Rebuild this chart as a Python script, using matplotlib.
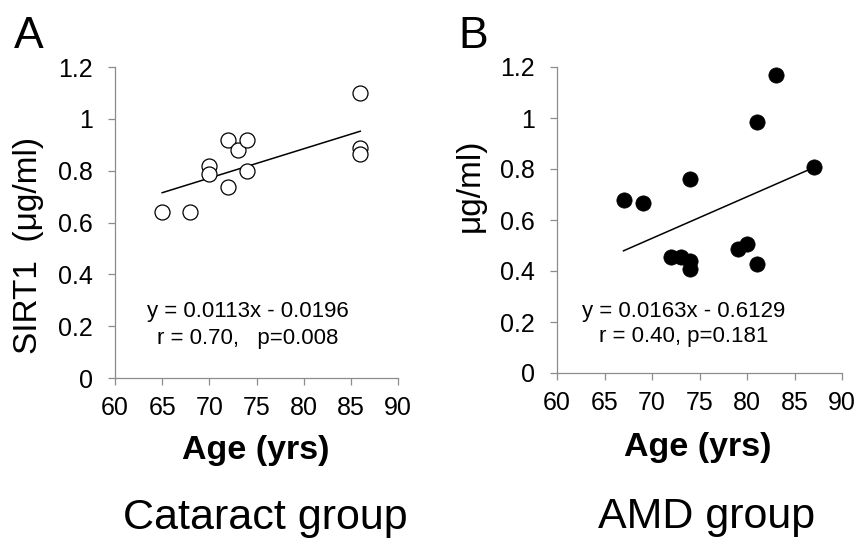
import matplotlib
matplotlib.use("Agg")
import matplotlib.pyplot as plt
import numpy as np

plt.rcParams['font.family'] = ['Liberation Sans', 'DejaVu Sans']

# Cataract group
ages_cat = [65, 68, 70, 70, 72, 72, 73, 74, 74, 86, 86, 86]
sirt_cat = [0.64, 0.64, 0.818, 0.786, 0.92, 0.736, 0.88, 0.92, 0.80, 1.10, 0.887, 0.865]
fit_cat = (0.0113, -0.0196)

# AMD group
ages_amd = [67, 69, 74, 72, 73, 74, 74, 79, 80, 81, 81, 83, 87]
sirt_amd = [0.678, 0.665, 0.761, 0.454, 0.454, 0.44, 0.407, 0.485, 0.506, 0.427, 0.985, 1.168, 0.807]
fit_amd = (0.0163, -0.6129)

xticks = [60, 65, 70, 75, 80, 85, 90]
yticks = [0, 0.2, 0.4, 0.6, 0.8, 1.0, 1.2]
yticklabels = ['0', '0.2', '0.4', '0.6', '0.8', '1', '1.2']

W, H = 855, 539
fig = plt.figure(figsize=(W / 100, H / 100), dpi=100)

def px_axes(l, t, r, b):
    return fig.add_axes([l / W, 1 - b / H, (r - l) / W, (b - t) / H])

axA = px_axes(115, 67, 398, 378)
axB = px_axes(557, 67, 842, 373)

grey = '#8c8c8c'

def style(ax):
    ax.set_xlim(60, 90)
    ax.set_ylim(0, 1.2)
    ax.set_xticks(xticks)
    ax.set_xticklabels([str(t) for t in xticks])
    ax.set_yticks(yticks)
    ax.set_yticklabels(yticklabels)
    for s in ['top', 'right']:
        ax.spines[s].set_visible(False)
    for s in ['left', 'bottom']:
        ax.spines[s].set_color(grey)
        ax.spines[s].set_linewidth(0.9)
    ax.tick_params(axis='both', direction='out', length=5, width=0.9,
                   color=grey, labelsize=18, labelcolor='black')
    ax.tick_params(axis='x', pad=8)
    ax.tick_params(axis='y', pad=11)
    ax.patch.set_alpha(0)

style(axA)
style(axB)

# Panel A
xa = np.array([min(ages_cat), max(ages_cat)])
axA.plot(xa, fit_cat[0] * xa + fit_cat[1], color='black', lw=1.1, zorder=2)
axA.plot(ages_cat, sirt_cat, linestyle='none', marker='o', markersize=10.8,
         markerfacecolor='white', markeredgecolor='black', markeredgewidth=0.9,
         zorder=3, clip_on=False)
axA.text(0.47, 0.196, 'y = 0.0113x - 0.0196', transform=axA.transAxes,
         ha='center', va='baseline', fontsize=16)
axA.text(0.47, 0.109, 'r = 0.70,   p=0.008', transform=axA.transAxes,
         ha='center', va='baseline', fontsize=16)

# Panel B
xb = np.array([min(ages_amd), max(ages_amd)])
axB.plot(xb, fit_amd[0] * xb + fit_amd[1], color='black', lw=1.1, zorder=2)
axB.plot(ages_amd, sirt_amd, linestyle='none', marker='o', markersize=11,
         markerfacecolor='black', markeredgecolor='black', markeredgewidth=0.5,
         zorder=3, clip_on=False)
axB.text(0.444, 0.183, 'y = 0.0163x - 0.6129', transform=axB.transAxes,
         ha='center', va='baseline', fontsize=16)
axB.text(0.444, 0.101, 'r = 0.40, p=0.181', transform=axB.transAxes,
         ha='center', va='baseline', fontsize=16)

def ftext(x, y, s, **kw):
    fig.text(x / W, 1 - y / H, s, **kw)

# Panel letters
ftext(14, 48, 'A', fontsize=32, ha='left', va='baseline')
ftext(458, 48, 'B', fontsize=32, ha='left', va='baseline')

# Y labels
ftext(28, 245, 'SIRT1  (μg/ml)', fontsize=24, rotation=90, ha='center', va='center')
ftext(470, 185, 'μg/ml)', fontsize=24, rotation=90, ha='center', va='center')

# X labels
ftext(256, 459, 'Age (yrs)', fontsize=24.5, fontweight='bold', ha='center', va='baseline')
ftext(698, 456, 'Age (yrs)', fontsize=24.5, fontweight='bold', ha='center', va='baseline')

# Group titles
ftext(265, 529, 'Cataract group', fontsize=31, ha='center', va='baseline')
ftext(707, 528, 'AMD group', fontsize=31, ha='center', va='baseline')

fig.savefig('out.png', dpi=100)
